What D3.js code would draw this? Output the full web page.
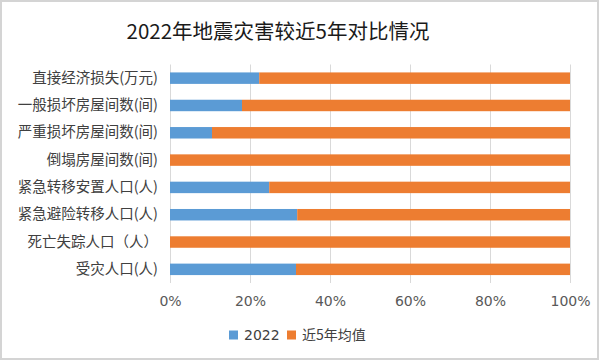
<!DOCTYPE html>
<html lang="zh">
<head>
  <meta charset="UTF-8">
  <title>2022年地震灾害较近5年对比情况</title>
  <script src="https://d3js.org/d3.v7.min.js"></script>
  <style>
    body { margin: 0; background: #fff; }
  </style>
</head>
<body>
  <script>
    var categories = [
      "直接经济损失(万元)",
      "一般损坏房屋间数(间)",
      "严重损坏房屋间数(间)",
      "倒塌房屋间数(间)",
      "紧急转移安置人口(人)",
      "紧急避险转移人口(人)",
      "死亡失踪人口（人）",
      "受灾人口(人)"
    ];
    // share of the total, in percent
    var values2022 = [22.3, 18.0, 10.5, 0, 24.8, 31.8, 0, 31.5];
    var valuesAvg = values2022.map(function(v) { return 100 - v; });
    var seriesNames = ["2022", "近5年均值"];
    var colors = ["#5B9BD5", "#ED7D31"];
    var ticks = [0, 20, 40, 60, 80, 100];

    var w = 600, h = 361;
    var plotLeft = 170, plotRight = 570, plotTop = 64.5, plotBottom = 283;
    var cjk = "'Noto Sans CJK SC', sans-serif";
    var latin = "'DejaVu Sans', sans-serif";

    var svg = d3.select("body").append("svg")
      .attr("width", w).attr("height", h);

    svg.append("rect")
      .attr("x", 1).attr("y", 1)
      .attr("width", w - 3).attr("height", h - 3)
      .attr("fill", "#fff").attr("stroke", "#d4d4d4").attr("stroke-width", 2);

    svg.append("text")
      .attr("x", 278).attr("y", 39)
      .attr("text-anchor", "middle")
      .style("font-family", cjk)
      .style("font-size", "20.5px")
      .attr("fill", "#1a1a1a")
      .text("2022年地震灾害较近5年对比情况");

    var xScale = d3.scaleLinear().domain([0, 100]).range([plotLeft, plotRight]);
    var yScale = d3.scaleBand().domain(categories).range([plotTop, plotBottom])
      .paddingInner(0.58).paddingOuter(0.29);

    // gridlines
    svg.append("g").selectAll("line")
      .data(ticks).enter().append("line")
      .attr("x1", function(d) { return xScale(d) + 0.5; })
      .attr("x2", function(d) { return xScale(d) + 0.5; })
      .attr("y1", plotTop).attr("y2", plotBottom)
      .attr("stroke", "#d9d9d9").attr("stroke-width", 1);

    var stacked = d3.stack().keys([0, 1])(categories.map(function(c, i) {
      return { cat: c, 0: values2022[i], 1: valuesAvg[i] };
    }));

    svg.append("g").selectAll("g")
      .data(stacked).enter().append("g")
      .attr("fill", function(d, i) { return colors[i]; })
      .selectAll("rect")
      .data(function(d) { return d; }).enter().append("rect")
      .attr("x", function(d) { return xScale(d[0]); })
      .attr("width", function(d) { return xScale(d[1]) - xScale(d[0]); })
      .attr("y", function(d) { return yScale(d.data.cat); })
      .attr("height", yScale.bandwidth());

    var xAxis = d3.axisBottom(xScale).tickValues(ticks)
      .tickFormat(function(d) { return d + "%"; }).tickSize(0).tickPadding(13);
    var gx = svg.append("g")
      .attr("transform", "translate(0," + plotBottom + ")")
      .call(xAxis);
    gx.select(".domain").remove();
    gx.selectAll("text")
      .style("font-family", latin)
      .style("font-size", "14px")
      .attr("fill", "#595959");

    var yAxis = d3.axisLeft(yScale).tickSize(0).tickPadding(12);
    var gy = svg.append("g")
      .attr("transform", "translate(" + plotLeft + ",0)")
      .call(yAxis);
    gy.select(".domain").remove();
    gy.selectAll("text")
      .style("font-family", cjk)
      .style("font-size", "14.5px")
      .attr("fill", "#404040");

    // legend
    var legendX = [229, 287];
    var legend = svg.append("g").selectAll("g")
      .data(seriesNames).enter().append("g")
      .attr("transform", function(d, i) { return "translate(" + legendX[i] + ",335)"; });
    legend.append("rect")
      .attr("x", 0).attr("y", -4.5).attr("width", 9).attr("height", 9)
      .attr("fill", function(d, i) { return colors[i]; });
    legend.append("text")
      .attr("x", 15).attr("y", 0).attr("dy", "0.36em")
      .style("font-size", "14px")
      .style("font-family", function(d, i) { return i === 0 ? latin : cjk; })
      .attr("fill", "#404040")
      .text(function(d) { return d; });
  </script>
</body>
</html>
